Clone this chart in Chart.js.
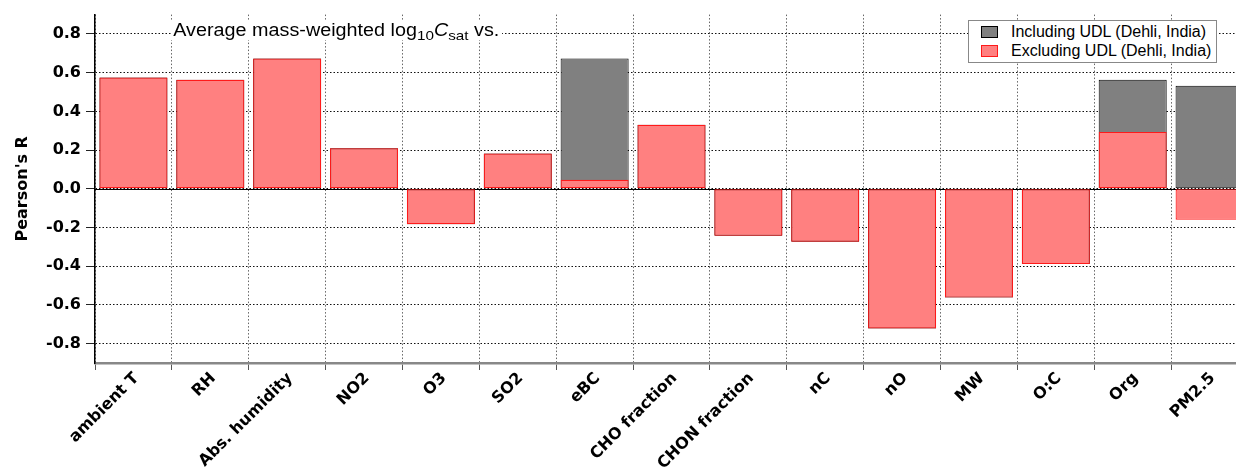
<!DOCTYPE html>
<html>
<head>
<meta charset="utf-8">
<script src="https://cdn.jsdelivr.net/npm/chart.js@4"></script>
<style>
  html, body { margin: 0; padding: 0; background: #fff; overflow: hidden; }
  #wrap { position: relative; width: 1250px; height: 473px; }
  #note {
    position: absolute; left: 171px; top: 20px; padding: 0 2px;
    background: #fff; color: #000; white-space: nowrap;
    font: 17.5px 'Liberation Sans', Arial, sans-serif; line-height: 20px;
    transform: scaleX(1.13); transform-origin: left center;
  }
  #note sub { font-size: 13.5px; vertical-align: -4px; line-height: 0; }
  #legend {
    position: absolute; left: 968px; top: 20px; width: 247px; height: 40px;
    border: 1px solid #888; background: #fff; padding-top: 1px;
    font: 16px 'Liberation Sans', Arial, sans-serif; color: #000;
  }
  #legend .row { position: relative; height: 19px; line-height: 19px; padding-left: 42px; white-space: nowrap; }
  #legend .sw { position: absolute; left: 12px; top: 4px; width: 15px; height: 10px; border: 1px solid; }
</style>
</head>
<body>
<div id="wrap">
  <canvas id="corrChart"></canvas>
  <div id="note">Average mass-weighted log<sub>10</sub><i>C</i><sub>sat</sub> vs.</div>
  <div id="legend"></div>
</div>
<script>
// Pearson's R of avg mass-weighted log10 Csat vs. each variable
const categories = ['ambient T', 'RH', 'Abs. humidity', 'NO2', 'O3', 'SO2', 'eBC', 'CHO fraction',
    'CHON fraction', 'nC', 'nO', 'MW', 'O:C', 'Org', 'PM2.5'];
const includingUDL = [0.575, 0.563, 0.673, 0.209, -0.183, 0.182, 0.673, 0.331,
    -0.243, -0.273, -0.722, -0.562, -0.389, 0.563, 0.533];
const excludingUDL = [0.575, 0.563, 0.673, 0.209, -0.183, 0.182, 0.047, 0.331,
    -0.243, -0.273, -0.722, -0.562, -0.389, 0.294, -0.160];
const yTicks = [-0.8, -0.6, -0.4, -0.2, 0.0, 0.2, 0.4, 0.6, 0.8];

const boldFont = { family: "'DejaVu Sans', sans-serif", size: 16, weight: 'bold' };

// solid line at R = 0, under the bars
const zeroLine = {
    id: 'zeroLine',
    beforeDatasetsDraw(chart) {
        const { ctx, chartArea, scales: { y } } = chart;
        const py = Math.round(y.getPixelForValue(0)) + 0.5;
        ctx.save();
        ctx.strokeStyle = '#000';
        ctx.lineWidth = 1;
        ctx.beginPath();
        ctx.moveTo(chartArea.left, py);
        ctx.lineTo(chartArea.right, py);
        ctx.stroke();
        ctx.restore();
    }
};

const chart = new Chart(document.getElementById('corrChart'), {
    type: 'bar',
    data: {
        labels: categories,
        datasets: [{
            label: 'Including UDL (Dehli, India)',
            data: includingUDL,
            backgroundColor: '#808080',
            borderColor: '#000',
            borderWidth: 1,
            borderSkipped: false,
            order: 2
        }, {
            label: 'Excluding UDL (Dehli, India)',
            data: excludingUDL,
            backgroundColor: '#ff8080',
            borderColor: '#ff1a1a',
            borderWidth: 1.2,
            borderSkipped: false,
            order: 1
        }]
    },
    options: {
        responsive: true,
        maintainAspectRatio: false,
        animation: false,
        layout: { padding: { top: 10, right: 2, left: 0, bottom: 0 } },
        datasets: {
            bar: { grouped: false, categoryPercentage: 1, barPercentage: 0.885 }
        },
        plugins: {
            legend: { display: false },
            tooltip: { enabled: false }
        },
        scales: {
            x: {
                grid: { offset: true, color: '#666', lineWidth: 1, tickLength: 7, tickColor: '#555' },
                border: { color: '#888', width: 2.5, dash: [1.5, 2] },
                ticks: {
                    minRotation: 45, maxRotation: 45, autoSkip: false, font: boldFont, color: '#000',
                    padding: -1, labelOffset: 3
                },
                afterFit(axis) { axis.height = 110; }
            },
            y: {
                min: -0.9,
                max: 0.9,
                afterBuildTicks(axis) { axis.ticks = yTicks.map(v => ({ value: v })); },
                grid: { color: '#111', lineWidth: 1, tickLength: 9, tickColor: '#222' },
                border: { color: '#000', width: 1.5, dash: [1.5, 2] },
                ticks: { font: boldFont, color: '#000', padding: 5, callback: v => v.toFixed(1) },
                title: { display: true, text: "Pearson's R", font: boldFont, color: '#000', padding: { top: 13, bottom: 0 } },
                afterFit(axis) { axis.width = 95; }
            }
        }
    },
    plugins: [zeroLine]
});

// legend box drawn in html, from the datasets
const legendEl = document.getElementById('legend');
chart.data.datasets.forEach(ds => {
    const row = document.createElement('div');
    row.className = 'row';
    row.innerHTML = `<span class="sw" style="background:${ds.backgroundColor};border-color:${ds.borderColor}"></span>${ds.label}`;
    legendEl.appendChild(row);
});
</script>
</body>
</html>
